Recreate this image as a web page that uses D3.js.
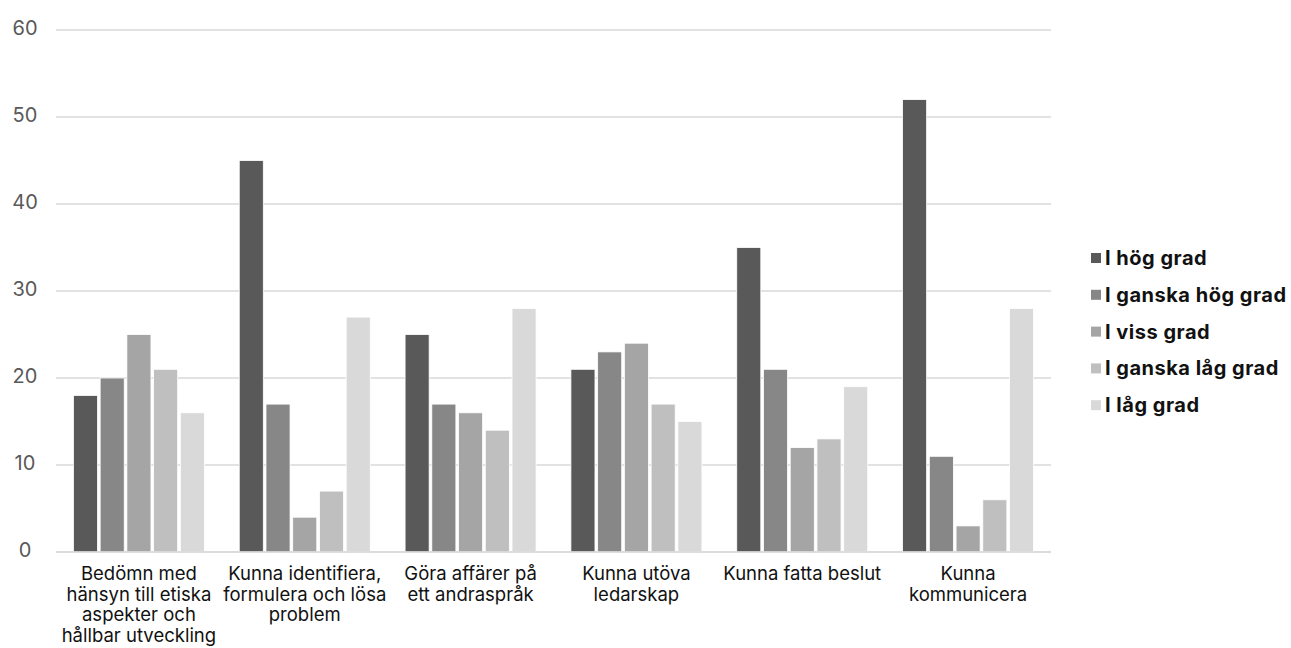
<!DOCTYPE html>
<html>
<head>
<meta charset="utf-8">
<script src="https://cdn.jsdelivr.net/npm/d3@7"></script>
<style>
  html, body { margin: 0; padding: 0; background: #ffffff; }
  svg { display: block; }
</style>
</head>
<body>
<svg id="chart" width="1291" height="648"></svg>
<script>
// ---- data ----
const categories = [
  "Bedömn med\nhänsyn till etiska\naspekter och\nhållbar utveckling",
  "Kunna identifiera,\nformulera och lösa\nproblem",
  "Göra affärer på\nett andraspråk",
  "Kunna utöva\nledarskap",
  "Kunna fatta beslut",
  "Kunna\nkommunicera"
];
const seriesNames = ["I hög grad", "I ganska hög grad", "I viss grad", "I ganska låg grad", "I låg grad"];
const hogGrad        = [18, 45, 25, 21, 35, 52];
const ganskaHogGrad  = [20, 17, 17, 23, 21, 11];
const vissGrad       = [25, 4, 16, 24, 12, 3];
const ganskaLagGrad  = [21, 7, 14, 17, 13, 6];
const lagGrad        = [16, 27, 28, 15, 19, 28];
const yTicks = [0, 10, 20, 30, 40, 50, 60];
const seriesColors = ["#595959", "#878787", "#a5a5a5", "#bfbfbf", "#d9d9d9"];

const seriesValues = [hogGrad, ganskaHogGrad, vissGrad, ganskaLagGrad, lagGrad];

// ---- layout ----
const svg = d3.select("#chart");
const plot = { left: 56, right: 1051, top: 30, bottom: 552 };
const font = "Inter, 'Liberation Sans', Arial, sans-serif";

const x0 = d3.scaleBand()
  .domain(categories)
  .range([plot.left, plot.right])
  .paddingInner(0.21)
  .paddingOuter(0.105);

const x1 = d3.scaleBand()
  .domain(seriesNames)
  .range([0, x0.bandwidth()])
  .paddingInner(0.1);

const y = d3.scaleLinear().domain([0, 60]).range([plot.bottom, plot.top]);
const color = d3.scaleOrdinal().domain(seriesNames).range(seriesColors);

// gridlines
svg.append("g")
  .selectAll("line")
  .data(yTicks)
  .join("line")
  .attr("x1", plot.left)
  .attr("x2", plot.right)
  .attr("y1", d => y(d))
  .attr("y2", d => y(d))
  .attr("stroke", "#d9d9d9")
  .attr("stroke-width", 1.5);

// y tick labels
svg.append("g")
  .selectAll("text")
  .data(yTicks)
  .join("text")
  .attr("x", 25)
  .attr("y", d => y(d) + 5)
  .attr("text-anchor", "middle")
  .attr("font-family", font)
  .attr("font-size", 20)
  .attr("fill", "#595959")
  .text(d => d);

// bars
const groups = svg.append("g")
  .selectAll("g")
  .data(categories)
  .join("g")
  .attr("transform", d => `translate(${x0(d)},0)`);

groups.selectAll("rect")
  .data((c, ci) => seriesNames.map((s, si) => ({ s, v: seriesValues[si][ci] })))
  .join("rect")
  .attr("x", d => x1(d.s))
  .attr("width", x1.bandwidth())
  .attr("y", d => y(d.v))
  .attr("height", d => y(0) - y(d.v))
  .attr("fill", d => color(d.s))
  .attr("stroke", "#ffffff")
  .attr("stroke-width", 0.8);

// baseline redraw
svg.append("line")
  .attr("x1", plot.left).attr("x2", plot.right)
  .attr("y1", y(0)).attr("y2", y(0))
  .attr("stroke", "#d9d9d9").attr("stroke-width", 1.5);

// category labels
const labels = svg.append("g")
  .selectAll("text")
  .data(categories)
  .join("text")
  .attr("x", d => x0(d) + x0.bandwidth() / 2)
  .attr("y", 580)
  .attr("text-anchor", "middle")
  .attr("font-family", font)
  .attr("font-size", 18.5)
  .attr("fill", "#111111");
labels.selectAll("tspan")
  .data(d => d.split("\n"))
  .join("tspan")
  .attr("x", function() { return d3.select(this.parentNode).attr("x"); })
  .attr("dy", (d, i) => i === 0 ? 0 : 20.7)
  .text(d => d);

// legend
const legend = svg.append("g")
  .selectAll("g")
  .data(seriesNames)
  .join("g")
  .attr("transform", (d, i) => `translate(1091,${258 + i * 36.8})`);
legend.append("rect")
  .attr("x", 0).attr("y", -5)
  .attr("width", 10).attr("height", 10)
  .attr("fill", d => color(d));
legend.append("text")
  .attr("x", 14)
  .attr("y", 7)
  .attr("font-family", font)
  .attr("font-size", 20)
  .attr("font-weight", "bold")
  .attr("letter-spacing", 0.5)
  .attr("fill", "#111111")
  .text(d => d);
</script>
</body>
</html>
